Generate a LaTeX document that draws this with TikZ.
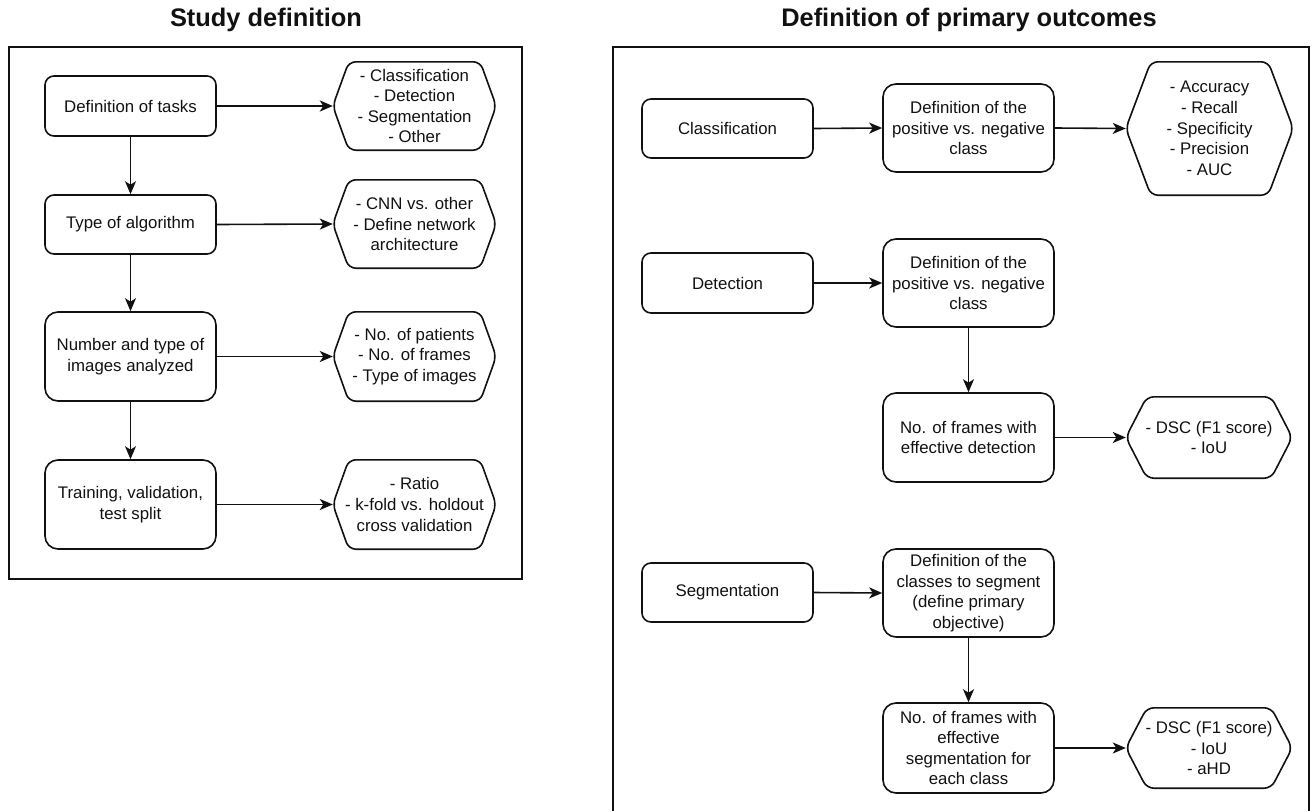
\documentclass[tikz,border=0pt]{standalone}
\usepackage{fontspec}
\setmainfont{Liberation Sans}
\usetikzlibrary{arrows.meta}
\definecolor{ink}{HTML}{111111}
\tikzset{
  lbl/.style={font=\fontsize{16.8}{20.6}\selectfont, align=center, inner sep=0pt, text=ink},
  procbox/.style={lbl, draw=ink, line width=1.6pt, rounded corners=9pt, minimum width=171pt, minimum height=59pt},
  tallbox/.style={procbox, rounded corners=13pt, minimum height=88pt},
  hexnode/.style={lbl},
  hexline/.style={draw=ink, line width=1.6pt, rounded corners=7pt, line join=round},
  conn/.style={draw=ink, line width=1.6pt, -{Stealth[length=13pt,width=11pt,inset=3.5pt]}},
  panel/.style={draw=ink, line width=1.6pt},
  heading/.style={font=\fontsize{25.4}{30}\selectfont\bfseries, text=ink, inner sep=0pt}
}
\newcommand\hexoutline[2]{%
  \draw[hexline] (#1.west) -- ([xshift=#2pt]#1.north west) -- ([xshift=-#2pt]#1.north east)
    -- (#1.east) -- ([xshift=-#2pt]#1.south east) -- ([xshift=#2pt]#1.south west) -- cycle;}
\begin{document}
\begin{tikzpicture}[x=1pt,y=-1pt]
\useasboundingbox (0,0) rectangle (1312,811);

% ---------- Left panel ----------
\node[heading] (tl) at (266,20) {Study definition};
\draw[panel] (9,47) rectangle (522,579);

\node[procbox, minimum height=60pt] (t1) at (130.5,106) {Definition of tasks};
\node[procbox] (t2) at (130.5,224.5) {Type of algorithm};
\node[tallbox, minimum height=89pt] (t3) at (130.5,356.5) {Number and type of\\images analyzed};
\node[tallbox, minimum height=89pt] (t4) at (130.5,504.5) {Training, validation,\\test split};

\node[hexnode, minimum width=163pt, minimum height=88pt] (h1) at (414.5,106)
  {- Classification\\- Detection\\- Segmentation\\- Other};
\node[hexnode, minimum width=163pt, minimum height=88pt] (h2) at (414.5,224)
  {- CNN vs. other\\- Define network\\architecture};
\node[hexnode, minimum width=163pt, minimum height=89pt] (h3) at (414.5,356.5)
  {- No. of patients\\- No. of frames\\- Type of images};
\node[hexnode, minimum width=163pt, minimum height=89pt] (h4) at (414.5,504.5)
  {- Ratio\\- k-fold vs. holdout\\cross validation};
\hexoutline{h1}{16}
\hexoutline{h2}{16}
\hexoutline{h3}{16}
\hexoutline{h4}{16}

\draw[conn] (t1) -- (t2);
\draw[conn] (t2) -- (t3);
\draw[conn] (t3) -- (t4);
\draw[conn] (t1.east) -- (h1.west);
\draw[conn] (t2.east) -- (h2.west);
\draw[conn] (t3.east) -- (h3.west);
\draw[conn] (t4.east) -- (h4.west);

% ---------- Right panel ----------
\node[heading] (tr) at (969,20) {Definition of primary outcomes};
\draw[panel] (613,47) rectangle (1309,830);

\node[procbox] (c1) at (727.5,128.5) {Classification};
\node[tallbox] (c2) at (968.5,128) {Definition of the\\positive vs. negative\\class};
\node[hexnode, minimum width=167pt, minimum height=133pt] (ch) at (1209.5,128.5)
  {- Accuracy\\- Recall\\- Specificity\\- Precision\\- AUC};
\hexoutline{ch}{25}

\node[procbox, minimum height=60pt] (d1) at (727.5,283) {Detection};
\node[tallbox] (d2) at (968.5,283) {Definition of the\\positive vs. negative\\class};
\node[tallbox, minimum height=89pt] (d3) at (968.5,437.5) {No. of frames with\\effective detection};
\node[hexnode, minimum width=166pt, minimum height=81pt] (dh) at (1209,437.5)
  {- DSC (F1 score)\\- IoU};
\hexoutline{dh}{21}

\node[procbox] (s1) at (727.5,592.5) {Segmentation};
\node[tallbox] (s2) at (968.5,593) {Definition of the\\classes to segment\\(define primary\\objective)};
\node[tallbox, minimum height=90pt] (s3) at (968.5,748) {No. of frames with\\effective\\segmentation for\\each class};
\node[hexnode, minimum width=166pt, minimum height=80pt] (sh) at (1209,748)
  {- DSC (F1 score)\\- IoU\\- aHD};
\hexoutline{sh}{21}

\draw[conn] (c1.east) -- (c2.west);
\draw[conn] (c2.east) -- (ch.west);
\draw[conn] (d1.east) -- (d2.west);
\draw[conn] (d2) -- (d3);
\draw[conn] (d3.east) -- (dh.west);
\draw[conn] (s1.east) -- (s2.west);
\draw[conn] (s2) -- (s3);
\draw[conn] (s3.east) -- (sh.west);
\end{tikzpicture}
\end{document}
